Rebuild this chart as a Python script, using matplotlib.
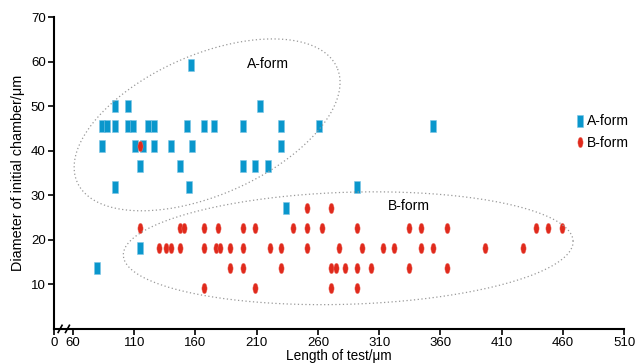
import numpy as np
import matplotlib
matplotlib.use("Agg")
from matplotlib import pyplot as plt
from matplotlib.path import Path
from matplotlib.transforms import Affine2D

plt.rcParams['font.family'] = ['Liberation Sans', 'DejaVu Sans']

# A-form: length of test / diameter of initial chamber
a_x = [156, 94, 105, 213,
       84, 88, 94, 105, 109, 121, 126, 153, 167, 175, 199, 230, 261, 354,
       84, 111, 117, 126, 140, 157, 230,
       115, 147, 199, 209, 219,
       94, 155, 292,
       234, 115, 80]
a_y = [59.2, 50, 50, 50,
       45.5, 45.5, 45.5, 45.5, 45.5, 45.5, 45.5, 45.5, 45.5, 45.5, 45.5, 45.5, 45.5, 45.5,
       41, 41, 41, 41, 41, 41, 41,
       36.6, 36.6, 36.6, 36.6, 36.6,
       31.9, 31.9, 31.9,
       27.2, 18.2, 13.6]

# B-form
b_x = [115,
       251, 271,
       115, 147, 151, 167, 178, 199, 209, 240, 251, 263, 292, 334, 344, 365, 438, 448, 459,
       130, 136, 140, 147, 167, 177, 180, 188, 199, 221, 230, 251, 277, 296, 313, 322, 344, 354, 396, 427,
       188, 199, 230, 271, 275, 282, 292, 303, 334, 365,
       167, 209, 271, 292]
b_y = [41,
       27.2, 27.2,
       22.6, 22.6, 22.6, 22.6, 22.6, 22.6, 22.6, 22.6, 22.6, 22.6, 22.6, 22.6, 22.6, 22.6, 22.6, 22.6, 22.6,
       18.2, 18.2, 18.2, 18.2, 18.2, 18.2, 18.2, 18.2, 18.2, 18.2, 18.2, 18.2, 18.2, 18.2, 18.2, 18.2, 18.2, 18.2, 18.2, 18.2,
       13.6, 13.6, 13.6, 13.6, 13.6, 13.6, 13.6, 13.6, 13.6, 13.6,
       9.1, 9.1, 9.1, 9.1]

x_ticks = [60, 110, 160, 210, 260, 310, 360, 410, 460, 510]
y_ticks = [10, 20, 30, 40, 50, 60, 70]
x_min = 44.5

blue = "#0a97cc"
red = "#e02a1c"
rect = [(-0.25, -0.5), (0.25, -0.5), (0.25, 0.5), (-0.25, 0.5), (-0.25, -0.5)]
oval = Path.unit_circle().transformed(Affine2D().scale(0.5, 1.0))

fig = plt.figure(figsize=(6.35, 3.63), dpi=100)
ax = fig.add_axes([0.085, 0.094, 0.898, 0.859])
ax.set_xlim(x_min, 510)
ax.set_ylim(0, 70)

ax.plot(a_x, a_y, linestyle="none", marker=rect, markersize=8,
        color=blue, markeredgecolor="#7cc6e6", markeredgewidth=0.4, label="A-form")
ax.plot(b_x, b_y, linestyle="none", marker=oval, markersize=7.5,
        color=red, markeredgecolor="#ef7a70", markeredgewidth=0.3, label="B-form")

# dotted ellipses drawn in pixel space
px_x = 635 * 0.898 / (510 - x_min)
px_y = 363 * 0.859 / 70
def ellipse(cx, cy, a, b, theta):
    t = np.linspace(0, 2 * np.pi, 300)
    th = np.deg2rad(theta)
    dx = a * np.cos(t) * np.cos(th) - b * np.sin(t) * np.sin(th)
    dy = a * np.cos(t) * np.sin(th) + b * np.sin(t) * np.cos(th)
    ax.plot(cx + dx / px_x, cy + dy / px_y, linestyle=(0, (1, 2)), color="#999999", linewidth=0.9)

ellipse(169.5, 45.8, 142, 70, 23.8)
ellipse(284.7, 18.1, 225, 56, 1.8)

ax.text(219, 59.4, "A-form", fontsize=10, ha="center", va="center")
ax.text(334.5, 27.6, "B-form", fontsize=10, ha="center", va="center")

ax.set_xticks([x_min] + x_ticks)
ax.set_xticklabels(["0"] + [str(v) for v in x_ticks], fontsize=9.5)
ax.set_yticks(y_ticks)
ax.set_yticklabels([str(v) for v in y_ticks], fontsize=9.5)
ax.tick_params(direction="out", length=4, width=1.2, pad=2)
ax.spines["top"].set_visible(False)
ax.spines["right"].set_visible(False)
ax.spines["left"].set_linewidth(1.5)
ax.spines["bottom"].set_linewidth(1.5)

# axis break marks
for bx in [49.5, 55.5]:
    ax.plot([bx - 1.6, bx + 1.6], [-0.8, 0.8], color="black", linewidth=1.2, clip_on=False)

ax.set_xlabel("Length of test/μm", fontsize=9.8, labelpad=0)
ax.set_ylabel("Diameter of initial chamber/μm", fontsize=10.4, labelpad=4)

ax.legend(loc="upper left", bbox_to_anchor=(0.905, 0.71), frameon=False, fontsize=10,
          handlelength=0.5, handletextpad=0.2, borderpad=0, labelspacing=0.55, markerscale=1)

plt.savefig("out.png", dpi=100)
